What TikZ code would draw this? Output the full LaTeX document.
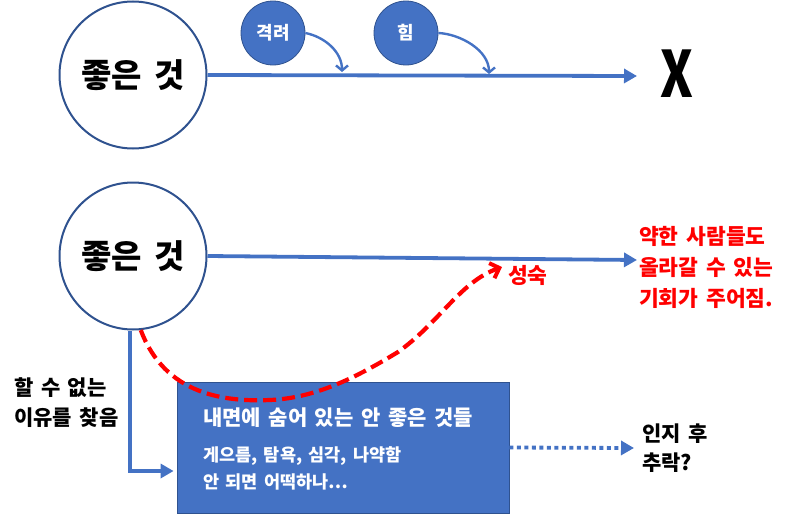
\documentclass[tikz,border=0pt]{standalone}
\usepackage{fontspec}
\setmainfont{Noto Sans CJK KR}
\usetikzlibrary{arrows.meta}
\definecolor{bl}{HTML}{4472C4}
\definecolor{bd}{HTML}{2F528F}
\definecolor{rd}{HTML}{FF0000}
\newcommand{\wsp}{\spaceskip=0.36em\relax}
\begin{document}
\begin{tikzpicture}[x=1pt,y=-1pt,
  big/.style={circle,draw=bd,line width=2pt,fill=white,minimum size=147pt,inner sep=0pt,font=\fontsize{33}{36}\selectfont\bfseries\wsp},
  small/.style={circle,fill=bl,draw=bd,line width=0.8pt,minimum size=64pt,inner sep=0pt,text=white,font=\fontsize{18}{20}\selectfont\bfseries},
  mainarrow/.style={draw=bl,line width=3.8pt,-{Triangle[length=13pt,width=14pt]}},
  bendarrow/.style={draw=bl,line width=2.4pt,-{Straight Barb[length=5pt,width=12pt,line width=2.4pt]}},
  blk/.style={inner sep=0pt,align=left,font=\fontsize{21}{30}\selectfont\bfseries\wsp},
  redt/.style={inner sep=0pt,align=left,text=rd,font=\fontsize{21.5}{31}\selectfont\bfseries\wsp},
  boxt/.style={inner sep=0pt,align=left,text=white,font=\bfseries},
]
\useasboundingbox (0,0) rectangle (800,514);
% top row
\node[big] (c1) at (133,75) {좋은 것};
\node[small] (g) at (273,33) {격려};
\node[small] (h) at (406,33) {힘};
\node[inner sep=0pt,font=\fontsize{64}{64}\selectfont\bfseries,xscale=0.78] (X) at (677,74) {X};
\coordinate (t1) at (637,76);
\coordinate (g1) at (342,72);
\coordinate (h1) at (489,74);
\draw[mainarrow] (c1.east) -- (t1);
\draw[bendarrow] (g.east) .. controls (325,37) and (342,52) .. (g1);
\draw[bendarrow] (h.east) .. controls (460,34) and (489,50) .. (h1);
% second row
\node[big] (c2) at (133,256) {좋은 것};
\coordinate (t2) at (637,260);
\draw[mainarrow] (c2.east) -- (t2);
\node[redt,anchor=west] (rt) at (639,267) {약한 사람들도\\올라갈 수 있는\\기회가 주어짐.};
\node[redt,anchor=west] (ss) at (508,275) {성숙};
\coordinate (s1) at (502,267);
% box
\node[rectangle,fill=bl,draw=bd,line width=0.8pt,minimum width=332pt,minimum height=131pt,inner sep=0pt] (box) at (343,447.5) {};
\node[boxt,anchor=west,font=\fontsize{21}{24}\selectfont\bfseries\wsp] (bt1) at (203,418) {내면에 숨어 있는 안 좋은 것들};
\node[boxt,anchor=west,font=\fontsize{17.5}{27}\selectfont\bfseries\wsp] (bt2) at (203,468.5) {게으름, 탐욕, 심각, 나약함\\안 되면 어떡하나⋯};
% red dashed curve
\draw[rd,line width=4.2pt,dash pattern=on 13pt off 6pt,-{Straight Barb[length=8pt,width=16pt,line width=4pt]}]
  (c2.-84) .. controls (165,395) and (225,402) .. (270,400)
  .. controls (320,398) and (365,372) .. (398,352)
  .. controls (440,322) and (460,282) .. (s1);
% left connector
\node[blk,anchor=west] (why) at (14,403) {할 수 없는\\이유를 찾음};
\draw[draw=bl,line width=3.8pt,-{Triangle[length=13pt,width=14pt]}] (c2.south -| 130,0) |- ([yshift=-23.5pt,xshift=-3pt]box.west);
% dotted connector
\node[blk,anchor=west,font=\fontsize{21}{29}\selectfont\bfseries\wsp] (ij) at (642,448) {인지 후\\추락?};
\draw[draw=bl,line width=3.8pt,dash pattern=on 4pt off 3.5pt,-{Triangle[length=13pt,width=14pt]}] (box.east) -- ([xshift=-8pt]ij.west);
\end{tikzpicture}
\end{document}
